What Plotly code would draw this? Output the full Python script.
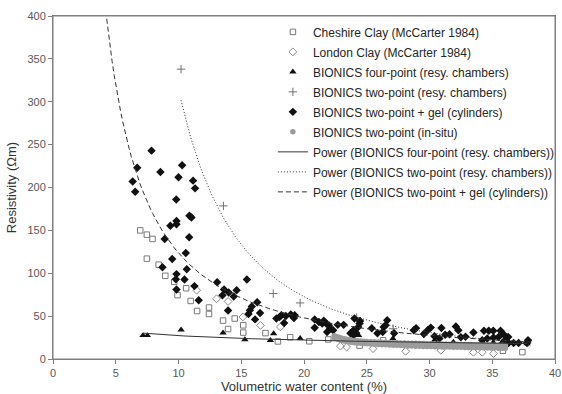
import numpy as np
import plotly.graph_objects as go

# ---------------- data ----------------
cheshire_x = [6.95, 7.48, 7.93, 7.48, 8.42, 8.95, 9.66, 9.92, 10.61, 10.97, 11.48, 12.43, 12.43,
              13.55, 13.95, 14.48, 15.16, 15.16, 16.93, 17.92, 18.9, 20.42, 21.93, 24.43, 26.3,
              35.85, 37.4]
cheshire_y = [150, 145, 140, 117, 110, 97, 90, 74.5, 82.5, 67.7, 56, 60, 52.5,
              44.8, 35, 47.2, 39.3, 30.8, 30.2, 20.5, 25.3, 20.7, 22.8, 15.6, 21.8,
              9.6, 8]

london_x = [11.45, 13.03, 13.95, 15.13, 16.53, 18.12, 22.9, 23.4, 25.5, 28.1, 30.9, 33.5, 34.2, 35.1]
london_y = [80.2, 70.2, 67.1, 49, 39.2, 37.4, 15, 14, 12.1, 9, 10.2, 7.8, 7.8, 6.3]

four_x = [7.17, 7.52, 10.21, 13.55, 15.29, 17.32, 17.58, 19.69, 24.35, 27.08, 30.4, 31.9,
          34.2, 35.08, 35.8, 37.77]
four_y = [27.5, 27.5, 34.1, 30.6, 22.6, 21.8, 29.6, 24.2, 27.7, 23.8, 21.8, 19.7,
          19.9, 19.5, 20.3, 17.9]

two_x = [10.2, 13.58, 17.55, 19.69, 24.2, 27.1, 37.8]
two_y = [338, 178.6, 76.3, 65.4, 48.3, 35.3, 20]

gel_x = [6.71, 6.35, 6.55, 7.85, 8.56, 10.29, 10.0, 11.16, 11.32, 9.82, 10.87, 11.03, 9.84, 9.84,
         9.35, 8.9, 10.85, 10.58, 9.5, 8.72, 10.66, 9.84, 9.79, 10.48, 9.84, 11.27, 11.61, 13.08,
         13.63, 14.0, 13.5, 14.63, 14.4, 13.95, 15.45, 15.69, 15.58, 15.84, 16.27, 16.1, 16.5,
         17.8, 18.05, 18.2, 18.55, 18.95, 19.26, 19.2, 18.42,
         20.85, 20.85, 21.19, 21.45, 21.58, 21.79, 21.98, 22.1, 22.32, 21.84, 22.69, 23.16,
         24.02, 23.7, 23.95, 24.16, 24.43, 24.47, 24.32, 23.95, 25.4, 25.85, 26.27, 26.35,
         26.5, 26.63, 27.18, 28.75, 28.93, 29.55, 29.87, 30.1, 30.4, 30.79, 30.95, 31.25,
         31.6, 32.1, 32.3, 32.5, 32.87, 33.5, 34.34, 34.72, 35.08, 35.66, 34.2, 34.6, 35.1,
         35.5, 35.9, 36.05, 36.27, 35.9, 36.3, 36.7, 37.1, 37.77, 37.85]
gel_y = [223, 207, 195, 243, 218, 226, 212, 208, 199, 186, 167, 165, 161, 157,
         155.5, 140, 142, 123.5, 116.5, 107, 104.7, 99, 93, 92.7, 81, 85, 68.5, 89.5,
         81, 77.5, 74.2, 80.2, 72.8, 56.5, 92.7, 56.8, 52.5, 61.2, 66.3, 46.2, 53.7,
         47.3, 49, 51, 50.2, 51.8, 51, 47.9, 42,
         46.2, 36.5, 43.2, 41.3, 44.6, 41, 39.3, 35.5, 33.5, 31.5, 39.8, 39.8,
         47.2, 30, 33.5, 30.4, 41.3, 44.4, 37.4, 27.7, 35.8, 30, 31.5, 37.4,
         39.3, 45.2, 30, 33.5, 36, 29.2, 33.8, 36.6, 26.5, 23.8, 36.2, 28.2,
         28.8, 37.8, 33.5, 25.3, 26, 31, 33, 33, 33, 33, 21.8, 23.8, 25,
         25.7, 28.8, 21.8, 25.7, 18.7, 18.7, 18.7, 18.7, 18.7, 21.8]

insitu_x = [22.4, 22.55, 22.7, 22.85, 23.0, 23.2, 23.4, 23.6, 23.8, 24.0, 24.25, 24.5, 24.75,
            25.0, 25.3, 25.6, 25.9, 26.2, 26.5, 26.8, 27.1, 27.4, 27.7, 28.0, 28.3, 28.6,
            28.9, 29.2, 29.5, 29.8, 30.1, 30.4, 30.7, 31.0, 31.3, 31.6, 31.9, 32.2, 32.5,
            32.8, 33.1, 33.4, 33.7, 34.0, 34.3, 34.6, 34.9, 35.2, 35.5, 35.8, 36.05,
            22.4, 22.55, 22.7, 22.85, 23.0, 23.2, 23.4, 23.6, 23.8, 24.0, 24.25, 24.5, 24.75,
            25.0, 25.3, 25.6, 25.9, 26.2, 26.5, 26.8, 27.1, 27.4, 27.7, 28.0, 28.3, 28.6,
            28.9, 29.2, 29.5, 29.8, 30.1, 30.4, 30.7, 31.0, 31.3, 31.6, 31.9, 32.2, 32.5,
            32.8, 33.1, 33.4, 33.7, 34.0, 34.3, 34.6, 34.9, 35.2, 35.5, 35.8, 36.05]
insitu_y = [27.0, 26.3, 25.6, 25.0, 24.3, 23.6, 23.0, 22.5, 22.0, 21.6, 21.2, 20.9, 20.6,
            20.4, 20.2, 20.0, 19.8, 19.6, 19.4, 19.2, 19.0, 18.9, 18.8, 18.6, 18.5, 18.4,
            18.3, 18.2, 18.0, 17.9, 17.8, 17.7, 17.6, 17.5, 17.4, 17.3, 17.2, 17.1, 17.0,
            16.9, 16.8, 16.7, 16.6, 16.5, 16.4, 16.3, 16.2, 16.1, 16.0, 15.9, 15.8,
            24.5, 23.8, 23.1, 22.4, 21.7, 21.0, 20.4, 19.9, 19.4, 19.0, 18.6, 18.3, 18.0,
            17.7, 17.4, 17.1, 16.9, 16.7, 16.5, 16.3, 16.1, 15.9, 15.7, 15.5, 15.3, 15.2,
            15.0, 14.9, 14.7, 14.6, 14.5, 14.3, 14.2, 14.1, 14.0, 13.9, 13.8, 13.7, 13.6,
            13.5, 13.4, 13.3, 13.2, 13.1, 13.0, 12.9, 12.8, 12.7, 12.6, 12.5, 12.4]

# power trendline coefficients y = a * x^b
fit_four = (55.6, -0.31, 7.17, 37.8)
fit_two = (41000.0, -2.115, 10.2, 37.9)
fit_gel = (2900.0, -1.37, 4.2, 38.0)

x_ticks = [0, 5, 10, 15, 20, 25, 30, 35, 40]
y_ticks = [0, 50, 100, 150, 200, 250, 300, 350, 400]

# ---------------- figure ----------------
fig = go.Figure()

def pts(name, x, y, symbol, size, color, line_color=None, line_width=0):
    fig.add_trace(go.Scatter(
        x=x, y=y, mode="markers", name=name, legendgroup=name,
        marker=dict(symbol=symbol, size=size, color=color,
                    line=dict(color=line_color or color, width=line_width))))

pts("Cheshire Clay (McCarter 1984)", cheshire_x, cheshire_y, "square-open", 5.5, "#7a7a7a", line_width=1)
pts("London Clay (McCarter 1984)", london_x, london_y, "diamond-open", 6, "#8a8a8a", line_width=1)
pts("BIONICS four-point (resy. chambers)", four_x, four_y, "triangle-up", 6.5, "#111111")
pts("BIONICS two-point (resy. chambers)", two_x, two_y, "cross-thin-open", 6, "#707070", line_width=1)
pts("BIONICS two-point + gel (cylinders)", gel_x, gel_y, "diamond", 6.5, "#111111")
pts("BIONICS two-point (in-situ)", insitu_x, insitu_y, "circle", 5.5, "#9c9c9c")

def power(name, fit, dash):
    a, b, x0, x1 = fit
    xs = np.linspace(x0, x1, 200)
    fig.add_trace(go.Scatter(x=xs, y=a * xs ** b, mode="lines", name=name, legendgroup=name,
                             line=dict(color="#333333", width=1, dash=dash)))

power("Power (BIONICS four-point (resy. chambers))", fit_four, "solid")
power("Power (BIONICS two-point (resy. chambers))", fit_two, "1px,2px")
power("Power (BIONICS two-point + gel (cylinders))", fit_gel, "5px,3px")

axis_common = dict(showline=True, linecolor="#808080", linewidth=1, mirror=True,
                   showgrid=False, zeroline=False, ticks="outside", ticklen=4,
                   tickcolor="#808080", ticklabeloverflow="allow",
                   tickfont=dict(family="Liberation Sans", size=11, color="#595959"))

fig.update_layout(
    width=562, height=394,
    margin=dict(l=53, r=7, t=16, b=35, autoexpand=False),
    paper_bgcolor="white", plot_bgcolor="white",
    xaxis=dict(range=[0, 40], tickvals=x_ticks,
               title=dict(text="Volumetric water content (%)", standoff=6,
                          font=dict(family="Liberation Sans", size=13, color="#333333")),
               **axis_common),
    yaxis=dict(range=[0, 400], tickvals=y_ticks,
               title=dict(text="Resistivity (Ωm)", standoff=7,
                          font=dict(family="Liberation Sans", size=13, color="#333333")),
               **axis_common),
    legend=dict(x=0.438, y=0.996, xanchor="left", yanchor="top",
                bgcolor="rgba(255,255,255,0)", borderwidth=0,
                font=dict(family="Liberation Sans", size=12, color="#262626"),
                tracegroupgap=1),
    shapes=[dict(type="rect", xref="paper", yref="paper", x0=0, y0=0, x1=1, y1=1,
                 line=dict(color="#808080", width=1), layer="above")],
    showlegend=True,
)

fig.write_html("out.html")
